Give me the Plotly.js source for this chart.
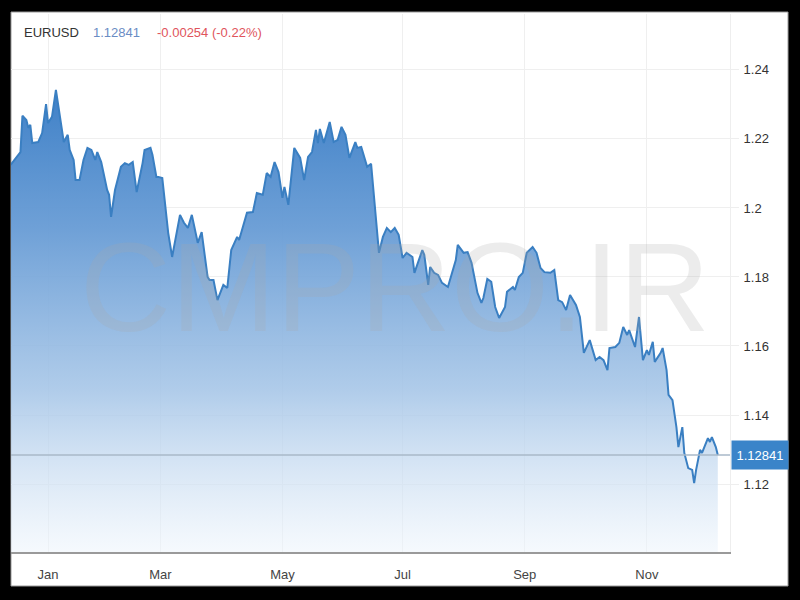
<!DOCTYPE html>
<html>
<head>
<meta charset="utf-8">
<script src="https://cdn.plot.ly/plotly-3.0.1.min.js"></script>
<style>
  html, body { margin: 0; padding: 0; background: #000; }
  #chart { width: 800px; height: 600px; }
</style>
</head>
<body>
<div id="chart"></div>
<script>
// Day offsets from 1 Jan and EURUSD close
const days = [-19,-17,-14,-13,-11,-10,-9,-8,-5,-3,-1,0,2,4,6,8,10,11,13,14,16,18,20,22,24,25,27,30,31,32,34,37,39,41,43,45,48,49,52,53,55,56,58,60,61,63,65,67,69,71,73,75,76,78,81,82,84,86,89,91,93,96,97,101,104,106,109,111,113,115,117,119,120,122,125,128,130,132,134,136,137,138,140,143,145,147,149,151,153,156,157,159,162,164,166,168,170,172,174,176,178,180,182,185,186,190,191,193,194,196,198,200,203,207,208,211,213,215,218,220,221,223,225,227,229,232,233,236,237,239,241,243,246,248,250,252,255,257,259,261,263,265,268,270,272,275,278,280,282,284,285,288,290,292,294,295,298,300,302,304,305,307,308,311,312,314,315,317,319,320,322,323,325,327,328,329,331,332,335,336,337,339,340];
const price = [1.2125,1.2139,1.2162,1.2267,1.2255,1.2232,1.2241,1.2188,1.2191,1.2217,1.2301,1.2246,1.2264,1.2342,1.2264,1.2191,1.2212,1.2168,1.2139,1.2081,1.2081,1.2139,1.2174,1.2168,1.2139,1.2162,1.2133,1.2052,1.2038,1.1974,1.2052,1.2119,1.2130,1.2125,1.2133,1.2046,1.2130,1.2168,1.2174,1.2154,1.2090,1.2090,1.2087,1.1986,1.1928,1.1858,1.1916,1.1980,1.1957,1.1942,1.1980,1.1922,1.1899,1.1930,1.1800,1.1791,1.1791,1.1733,1.1777,1.1768,1.1878,1.1916,1.1907,1.1986,1.1988,1.2043,1.2038,1.2101,1.2090,1.2133,1.2104,1.2029,1.2061,1.2009,1.2174,1.2145,1.2081,1.2148,1.2162,1.2226,1.2188,1.2229,1.2188,1.2249,1.2191,1.2197,1.2235,1.2212,1.2145,1.2191,1.2174,1.2177,1.2119,1.2128,1.1986,1.1870,1.1916,1.1942,1.1930,1.1942,1.1922,1.1855,1.1870,1.1858,1.1812,1.1878,1.1864,1.1777,1.1829,1.1812,1.1806,1.1783,1.1771,1.1849,1.1893,1.1870,1.1872,1.1841,1.1754,1.1725,1.1739,1.1794,1.1786,1.1713,1.1681,1.1713,1.1757,1.1771,1.1762,1.1800,1.1812,1.1870,1.1887,1.1870,1.1826,1.1814,1.1812,1.1820,1.1733,1.1727,1.1704,1.1748,1.1719,1.1684,1.1580,1.1617,1.1559,1.1568,1.1559,1.1530,1.1594,1.1597,1.1609,1.1655,1.1632,1.1646,1.1597,1.1684,1.1559,1.1588,1.1574,1.1612,1.1554,1.1580,1.1594,1.1530,1.1458,1.1443,1.1365,1.1307,1.1365,1.1290,1.1246,1.1241,1.1203,1.1241,1.1299,1.1290,1.1333,1.1322,1.1336,1.1307,1.12841];

const monthTicks = [0, 57, 119, 180, 242, 304];
const monthLabels = ['Jan', 'Mar', 'May', 'Jul', 'Sep', 'Nov'];

const symbol = 'EURUSD';
const lastPrice = 1.12841;
const change = '-0.00254 (-0.22%)';
const watermark = 'CMPRO.IR';

const font = 'Liberation Sans, Arial, Helvetica, sans-serif';

const trace = {
  x: days,
  y: price,
  type: 'scatter',
  mode: 'lines',
  line: { color: '#3a7fc2', width: 2 },
  fill: 'tozeroy',
  fillgradient: {
    type: 'vertical',
    start: 1.10,
    stop: 1.235,
    colorscale: [
      [0, 'rgba(238,245,252,0.55)'],
      [0.35, 'rgba(165,197,231,0.88)'],
      [0.7, 'rgba(104,156,213,0.96)'],
      [1, 'rgba(62,128,199,1)']
    ]
  },
  hoverinfo: 'skip'
};

const layout = {
  width: 800,
  height: 600,
  autosize: false,
  margin: { l: 11, r: 70, t: 14, b: 48, pad: 0 },
  paper_bgcolor: '#000000',
  plot_bgcolor: '#ffffff',
  showlegend: false,
  font: { family: font, color: '#333', size: 13 },
  xaxis: {
    range: [-18.8, 346.2],
    tickmode: 'array',
    tickvals: monthTicks,
    ticktext: monthLabels,
    showgrid: true,
    gridcolor: '#efefef',
    gridwidth: 1,
    zeroline: false,
    showline: true,
    linecolor: '#9a9a9a',
    linewidth: 2,
    ticks: '',
    ticklabelstandoff: 9,
    tickfont: { size: 13, color: '#444', family: font },
    fixedrange: true
  },
  yaxis: {
    side: 'right',
    range: [1.1003, 1.2562],
    tick0: 1.12,
    dtick: 0.02,
    showgrid: true,
    gridcolor: '#efefef',
    gridwidth: 1,
    zeroline: false,
    showline: true,
    linecolor: '#eeeeee',
    linewidth: 1,
    ticks: 'outside',
    ticklen: 8,
    tickcolor: '#eeeeee',
    ticklabelstandoff: 2,
    tickfont: { size: 13, color: '#333', family: font },
    fixedrange: true
  },
  shapes: [
    { type: 'rect', xref: 'paper', yref: 'paper', x0: 0, x1: 1.0807, y0: -0.0632, y1: 1.0037,
      fillcolor: '#ffffff', line: { color: '#999999', width: 1 }, layer: 'below' },
    { type: 'line', xref: 'paper', yref: 'y', x0: 0, x1: 1, y0: lastPrice, y1: lastPrice,
      line: { color: '#a9b8c8', width: 1.5 }, layer: 'above' }
  ],
  annotations: [
    { xref: 'paper', yref: 'paper', x: 0.534, y: 0.4913, xanchor: 'center', yanchor: 'middle',
      text: watermark, showarrow: false,
      font: { family: font, size: 126, color: 'rgba(170,170,170,0.22)' } },
    { xref: 'paper', yref: 'paper', x: 0.0153, y: 0.9665, xanchor: 'left', yanchor: 'middle',
      text: symbol, showarrow: false, font: { size: 13, color: '#333', family: font } },
    { xref: 'paper', yref: 'paper', x: 0.1113, y: 0.9665, xanchor: 'left', yanchor: 'middle',
      text: String(lastPrice), showarrow: false, font: { size: 13, color: '#6a8cc4', family: font } },
    { xref: 'paper', yref: 'paper', x: 0.2003, y: 0.9665, xanchor: 'left', yanchor: 'middle',
      text: change, showarrow: false, font: { size: 13, color: '#e0545c', family: font } },
    { xref: 'paper', yref: 'y', x: 1.0014, y: lastPrice, xanchor: 'left', yanchor: 'middle',
      text: String(lastPrice), showarrow: false, bgcolor: '#3a84c9',
      width: 54, height: 26, borderpad: 1, align: 'center',
      font: { size: 13, color: '#ffffff', family: font } }
  ]
};

Plotly.newPlot('chart', [trace], layout, { staticPlot: true, displayModeBar: false });
</script>
</body>
</html>
